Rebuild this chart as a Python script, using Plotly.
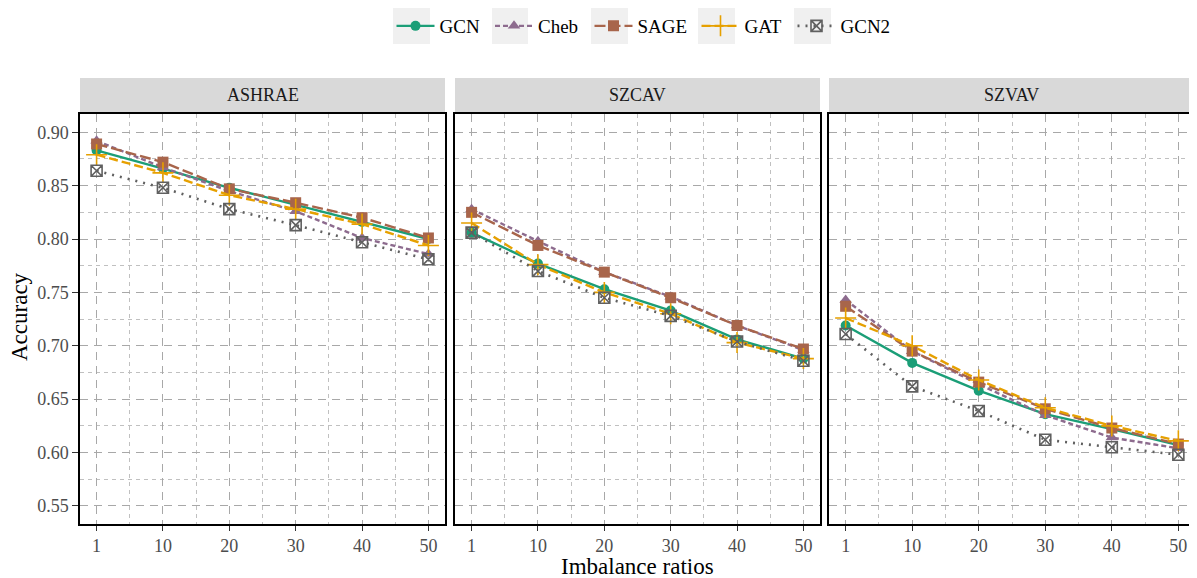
import plotly.graph_objects as go
from plotly.subplots import make_subplots

ratios = ["1", "10", "20", "30", "40", "50"]
datasets = ["ASHRAE", "SZCAV", "SZVAV"]
models = ["GCN", "Cheb", "SAGE", "GAT", "GCN2"]

ashrae_gcn = [0.883, 0.866, 0.848, 0.832, 0.816, 0.800]
ashrae_cheb = [0.892, 0.867, 0.845, 0.826, 0.801, 0.786]
ashrae_sage = [0.889, 0.872, 0.847, 0.834, 0.820, 0.801]
ashrae_gat = [0.879, 0.862, 0.841, 0.828, 0.814, 0.794]
ashrae_gcn2 = [0.864, 0.848, 0.828, 0.813, 0.797, 0.781]

szcav_gcn = [0.806, 0.777, 0.753, 0.733, 0.706, 0.688]
szcav_cheb = [0.828, 0.798, 0.769, 0.746, 0.719, 0.696]
szcav_sage = [0.825, 0.794, 0.769, 0.745, 0.719, 0.697]
szcav_gat = [0.815, 0.776, 0.750, 0.730, 0.703, 0.688]
szcav_gcn2 = [0.806, 0.770, 0.745, 0.728, 0.704, 0.686]

szvav_gcn = [0.719, 0.684, 0.658, 0.636, 0.622, 0.607]
szvav_cheb = [0.743, 0.695, 0.664, 0.635, 0.614, 0.604]
szvav_sage = [0.737, 0.695, 0.666, 0.641, 0.623, 0.608]
szvav_gat = [0.726, 0.700, 0.668, 0.642, 0.625, 0.611]
szvav_gcn2 = [0.711, 0.662, 0.639, 0.612, 0.605, 0.598]

values = {
    "ASHRAE": [ashrae_gcn, ashrae_cheb, ashrae_sage, ashrae_gat, ashrae_gcn2],
    "SZCAV": [szcav_gcn, szcav_cheb, szcav_sage, szcav_gat, szcav_gcn2],
    "SZVAV": [szvav_gcn, szvav_cheb, szvav_sage, szvav_gat, szvav_gcn2],
}

y_ticks = [0.55, 0.60, 0.65, 0.70, 0.75, 0.80, 0.85, 0.90]

colors = ["#1b9e77", "#8d6b8e", "#a8654b", "#e6a000", "#606060"]
dashes = ["solid", "5px,3px", "11px,4px", "9px,4px", "2px,6px"]
symbols = ["circle", "triangle-up", "square", "cross-thin-open", "square-x-open"]
msizes = [10, 11, 11, 15, 11]

FONT = "Liberation Serif, serif"

# the page body has an 8px margin: figure is drawn in page coords minus 8
OFF = 8
W, H = 1197 - OFF, 578 - OFF
ml, mr, mt, mb = 80 - OFF, 2, 114 - OFF, 54
pw = W - ml - mr
ph = H - mt - mb


def px_x(p):
    return (p - OFF - ml) / pw


def px_y(p):
    return (H - mb - (p - OFF)) / ph


panels_px = [(80, 445), (455, 820), (829, 1195)]
domains = [(px_x(a), px_x(b)) for a, b in panels_px]
legend_names = ["legend", "legend2", "legend3", "legend4", "legend5"]
key_boxes = [(393, 430), (492, 528), (591, 628), (698, 735), (794, 831)]

fig = make_subplots(rows=1, cols=3, shared_yaxes=True, horizontal_spacing=0.0)

xidx = list(range(len(ratios)))
for c, ds in enumerate(datasets):
    for m, name in enumerate(models):
        sym = symbols[m]
        marker = dict(symbol=sym, size=msizes[m], color=colors[m])
        if "open" in sym:
            marker["line"] = dict(width=1.6, color=colors[m])
        fig.add_trace(
            go.Scatter(
                x=xidx, y=values[ds][m], mode="lines+markers", name=name,
                legendgroup=name, showlegend=(c == 0), legend=legend_names[m],
                line=dict(color=colors[m], width=2.4 if m != 4 else 2.6, dash=dashes[m]),
                marker=marker,
            ),
            row=1, col=c + 1,
        )

for c in range(3):
    xa = "xaxis" if c == 0 else f"xaxis{c+1}"
    fig.layout[xa].update(
        domain=list(domains[c]), range=[-0.25, 5.25], automargin=False,
        tickvals=xidx, ticktext=ratios, tickmode="array",
        showline=True, linecolor="black", linewidth=1.5, mirror=True,
        ticks="outside", ticklen=5, tickcolor="#333333", tickwidth=1.2,
        tickfont=dict(family=FONT, size=18, color="#4d4d4d"),
        showgrid=True, gridcolor="#a8a8a8", gridwidth=1.3, griddash="8px,6px",
        minor=dict(tickvals=[i + 0.5 for i in xidx[:-1]], showgrid=True,
                   gridcolor="#c0c0c0", gridwidth=0.8, griddash="4px,4px", ticks=""),
        zeroline=False,
    )
    ya = "yaxis" if c == 0 else f"yaxis{c+1}"
    fig.layout[ya].update(
        range=[0.5331, 0.9171], automargin=False,
        tickvals=y_ticks, ticktext=[f"{v:.2f}" for v in y_ticks], tickmode="array",
        showline=True, linecolor="black", linewidth=1.5, mirror=True,
        ticks="outside" if c == 0 else "", ticklen=6, tickcolor="#333333", tickwidth=1.2,
        tickfont=dict(family=FONT, size=18, color="#4d4d4d"),
        showgrid=True, gridcolor="#a8a8a8", gridwidth=1.3, griddash="8px,6px",
        minor=dict(tickvals=[v + 0.025 for v in y_ticks], showgrid=True,
                   gridcolor="#c0c0c0", gridwidth=0.8, griddash="4px,4px", ticks=""),
        zeroline=False,
    )

shapes = []
annotations = []
strip_top = px_y(78)
strip_bot = px_y(113)
for c, ds in enumerate(datasets):
    x0, x1 = domains[c]
    shapes.append(dict(type="rect", xref="paper", yref="paper", x0=x0, x1=x1,
                       y0=strip_bot, y1=strip_top, fillcolor="#d9d9d9", line=dict(width=0), layer="below"))
    annotations.append(dict(text=ds, xref="paper", yref="paper", x=(x0 + x1) / 2,
                            y=(strip_top + strip_bot) / 2, showarrow=False,
                            font=dict(family=FONT, size=18, color="#1a1a1a"),
                            xanchor="center", yanchor="middle"))

# legend key backgrounds
for a, b in key_boxes:
    shapes.append(dict(type="rect", xref="paper", yref="paper", x0=px_x(a), x1=px_x(b),
                       y0=px_y(44), y1=px_y(8), fillcolor="#f0f0f0", line=dict(width=0)))

annotations.append(dict(text="Imbalance ratios", xref="paper", yref="paper",
                        x=(domains[0][0] + domains[2][1]) / 2, y=px_y(566),
                        showarrow=False, xanchor="center", yanchor="middle",
                        font=dict(family=FONT, size=23, color="black")))
annotations.append(dict(text="Accuracy", xref="paper", yref="paper",
                        x=px_x(19), y=px_y(317), textangle=-90,
                        showarrow=False, xanchor="center", yanchor="middle",
                        font=dict(family=FONT, size=23, color="black")))

legend_common = dict(orientation="h", xanchor="left", yanchor="middle",
                     font=dict(family=FONT, size=19, color="black"),
                     itemwidth=38, bgcolor="rgba(0,0,0,0)", borderwidth=0)

layout_legends = {}
for m, lname in enumerate(legend_names):
    a, b = key_boxes[m]
    center = (a + b) / 2
    layout_legends[lname] = dict(legend_common, x=px_x(center - 20), y=px_y(26))

fig.update_layout(
    width=W, height=H,
    margin=dict(l=ml, r=mr, t=mt, b=mb, autoexpand=False),
    plot_bgcolor="white", paper_bgcolor="white",
    font=dict(family=FONT, size=16, color="black"),
    shapes=shapes, annotations=annotations,
    **layout_legends,
)

fig.write_html("out.html")
